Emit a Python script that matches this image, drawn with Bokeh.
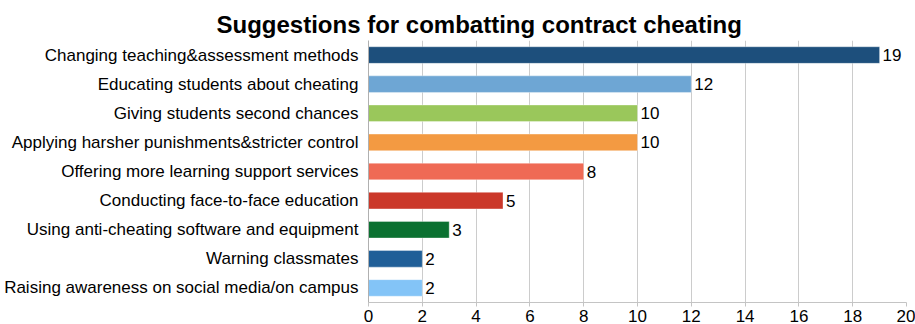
from bokeh.plotting import figure
from bokeh.models import ColumnDataSource, Range1d, FactorRange, FixedTicker
from bokeh.core.properties import value
from bokeh.embed import file_html
from bokeh.resources import INLINE

categories = [
    "Changing teaching&assessment methods",
    "Educating students about cheating",
    "Giving students second chances",
    "Applying harsher punishments&stricter control",
    "Offering more learning support services",
    "Conducting face-to-face education",
    "Using anti-cheating software and equipment",
    "Warning classmates",
    "Raising awareness on social media/on campus",
]
counts = [19, 12, 10, 10, 8, 5, 3, 2, 2]
colors = ["#1d4f7c", "#6ea6d4", "#9ac75b", "#f39a42", "#ef6a55",
          "#cb382a", "#0b7131", "#205f98", "#83c4f7"]
x_ticks = [0, 2, 4, 6, 8, 10, 12, 14, 16, 18, 20]

FONT = "Liberation Sans"

source = ColumnDataSource(data=dict(
    cat=categories, val=counts, color=colors,
    label=[str(v) for v in counts],
))

p = figure(
    width=915, height=324,
    y_range=FactorRange(factors=list(reversed(categories))),
    x_range=Range1d(0, 20),
    output_backend="svg", toolbar_location=None,
    min_border_left=368, min_border_right=9, min_border_top=40, min_border_bottom=0,
)
p.outline_line_color = None
p.background_fill_color = "white"
p.border_fill_color = "white"

p.title.text = "Suggestions for combatting contract cheating"
p.title.text_font = FONT
p.title.text_font_size = "24px"
p.title.text_font_style = "bold"
p.title.text_color = "black"
p.title.align = "left"
p.title.offset = -152
p.title.standoff = 6

p.hbar(y="cat", right="val", height=0.57, left=0, source=source,
       fill_color="color", line_color="white", line_alpha=0.35, line_width=1)

p.text(x="val", y="cat", text="label", source=source,
       x_offset=3, text_baseline="middle", text_align="left",
       text_font=value(FONT), text_font_size="17px", text_color="black")

p.xgrid.grid_line_color = "#cccccc"
p.xgrid.grid_line_width = 1
p.ygrid.grid_line_color = None

p.xaxis.ticker = FixedTicker(ticks=x_ticks)
p.xaxis.axis_line_color = "#c4c4c4"
p.xaxis.major_tick_line_color = "#c4c4c4"
p.xaxis.major_tick_out = 4
p.xaxis.major_tick_in = 0
p.xaxis.minor_tick_line_color = None
p.xaxis.major_label_standoff = 3
p.xaxis.major_label_text_font = FONT
p.xaxis.major_label_text_font_size = "17px"
p.xaxis.major_label_text_color = "black"

p.yaxis.axis_line_color = "#b0b0b0"
p.yaxis.major_tick_line_color = None
p.yaxis.minor_tick_line_color = None
p.yaxis.major_tick_out = 0
p.yaxis.major_label_standoff = 10
p.yaxis.major_label_text_font = FONT
p.yaxis.major_label_text_font_size = "17px"
p.yaxis.major_label_text_color = "black"

open("out.html", "w").write(file_html(p, INLINE))
